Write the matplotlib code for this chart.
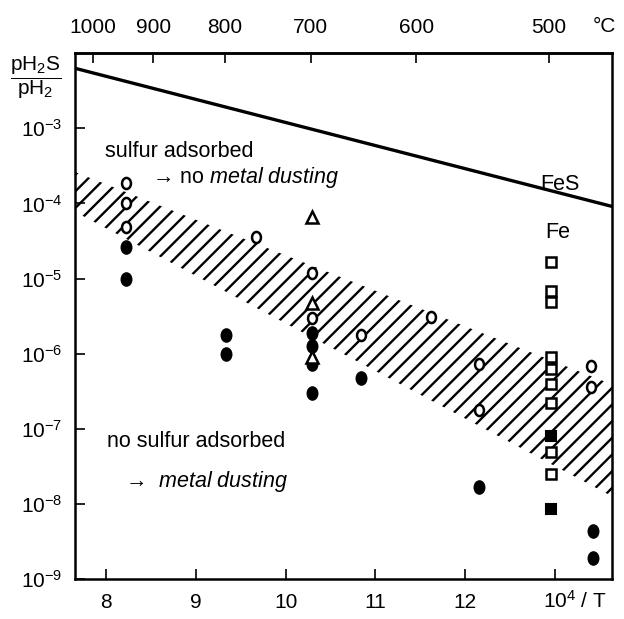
import numpy as np
import matplotlib
matplotlib.use("Agg")
import matplotlib.pyplot as plt
from matplotlib.path import Path
from matplotlib.transforms import Affine2D

plt.rcParams['font.family'] = ['Liberation Sans', 'DejaVu Sans']
plt.rcParams['mathtext.fontset'] = 'custom'
plt.rcParams['mathtext.rm'] = 'Liberation Sans'
plt.rcParams['mathtext.it'] = 'Liberation Sans:italic'
plt.rcParams['hatch.linewidth'] = 1.7

# data (x = 10^4/T, y = pH2S/pH2)
open_circle_x = [8.22, 8.22, 8.22, 9.67, 10.29, 10.29, 10.84, 11.62, 12.15, 12.15, 13.40, 13.40]
open_circle_y = [1.9e-4, 1.0e-4, 4.8e-5, 3.6e-5, 1.2e-5, 3.0e-6, 1.8e-6, 3.1e-6, 7.2e-7, 1.8e-7, 6.8e-7, 3.6e-7]

filled_circle_x = [8.22, 8.22, 9.34, 9.34, 10.29, 10.29, 10.29, 10.29, 10.84, 12.15, 13.43, 13.43]
filled_circle_y = [2.6e-5, 9.8e-6, 1.8e-6, 1.0e-6, 1.86e-6, 1.25e-6, 7.2e-7, 3.0e-7, 4.8e-7, 1.7e-8, 4.3e-9, 1.9e-9]

triangle_x = [10.29, 10.29, 10.29]
triangle_y = [6.6e-5, 4.7e-6, 9.1e-7]

open_square_x = [12.96] * 9
open_square_y = [1.66e-5, 6.9e-6, 4.9e-6, 8.9e-7, 6.2e-7, 3.9e-7, 2.2e-7, 4.9e-8, 2.5e-8]

filled_square_x = [12.96, 12.96]
filled_square_y = [7.9e-8, 8.5e-9]

# FeS / Fe equilibrium line (ends)
fes_x = [7.65, 13.64]
fes_y = [10 ** -2.2, 10 ** -4.04]

# hatched transition band (ends)
band_x = [7.65, 13.64]
band_upper = [10 ** -3.58, 10 ** -6.41]
band_lower = [10 ** -4.11, 10 ** -7.90]

temps_c = [1000, 900, 800, 700, 600, 500]
bottom_ticks = [8, 9, 10, 11, 12, 13]
bottom_labels = ['8', '9', '10', '11', '12', '']

fig = plt.figure(figsize=(6.24, 6.19), dpi=100)
ax = fig.add_axes([0.120, 0.0646, 0.861, 0.8494])
ax.set_yscale('log')
ax.set_xlim(7.65, 13.64)
ax.set_ylim(1e-9, 1e-2)

ax.fill_between(band_x, band_lower, band_upper, facecolor='none',
                edgecolor='black', hatch='//', linewidth=0)
ax.plot(fes_x, fes_y, color='black', lw=2.4, solid_capstyle='butt')

oval = Path.unit_circle().transformed(Affine2D().scale(0.8, 1.0))
ax.plot(open_circle_x, open_circle_y, ls='none', marker=oval, ms=8,
        mfc='white', mec='black', mew=1.8)
ax.plot(filled_circle_x, filled_circle_y, ls='none', marker=oval, ms=9.5,
        mfc='black', mec='black', mew=1)
ax.plot(triangle_x, triangle_y, ls='none', marker='^', ms=8,
        mfc='white', mec='black', mew=1.8)
ax.plot(open_square_x, open_square_y, ls='none', marker='s', ms=6.5,
        mfc='white', mec='black', mew=1.8)
ax.plot(filled_square_x, filled_square_y, ls='none', marker='s', ms=7,
        mfc='black', mec='black', mew=1.5)

for s in ax.spines.values():
    s.set_linewidth(1.8)

ax.set_yticks([1e-9, 1e-8, 1e-7, 1e-6, 1e-5, 1e-4, 1e-3])
ax.yaxis.set_minor_locator(matplotlib.ticker.NullLocator())
ax.set_xticks(bottom_ticks)
ax.set_xticklabels(bottom_labels)
ax.tick_params(axis='both', direction='in', length=7, width=1.2, labelsize=15)
ax.tick_params(axis='x', pad=10)
ax.tick_params(axis='y', pad=9)

top = ax.secondary_xaxis('top', functions=(lambda x: 1e4 / x - 273,
                                           lambda t: 1e4 / (t + 273)))
top.set_xticks(temps_c)
top.tick_params(direction='in', length=7, width=1.2, labelsize=15, pad=12)
top.spines['top'].set_linewidth(1.8)

ax.annotate('10$^4$ / T', xy=(13.22, 0.0), xycoords=('data', 'axes fraction'),
            xytext=(0, -16), textcoords='offset points', fontsize=15,
            ha='center', va='center')
ax.annotate('°C', xy=(0.985, 1.0), xycoords='axes fraction',
            xytext=(0, 19), textcoords='offset points', fontsize=15,
            ha='center', va='center')
ax.annotate(r'$\dfrac{\mathrm{pH_2S}}{\mathrm{pH_2}}$', xy=(0.0, 1.0),
            xycoords='axes fraction', xytext=(-28, -1), textcoords='offset points',
            fontsize=15, ha='center', va='top')

fs = 15.5
ax.text(7.99, 10 ** -3.31, 'sulfur adsorbed', fontsize=fs, va='center')
ax.text(8.51, 10 ** -3.65, r'→ no $\mathit{metal\ dusting}$', fontsize=fs, va='center')
ax.text(8.01, 10 ** -7.17, 'no sulfur adsorbed', fontsize=fs, va='center')
ax.text(8.21, 10 ** -7.70, r'→  $\mathit{metal\ dusting}$', fontsize=fs, va='center')
ax.text(12.84, 10 ** -3.75, 'FeS', fontsize=fs, va='center')
ax.text(12.89, 10 ** -4.39, 'Fe', fontsize=fs, va='center')

fig.savefig('out.png', dpi=100)
